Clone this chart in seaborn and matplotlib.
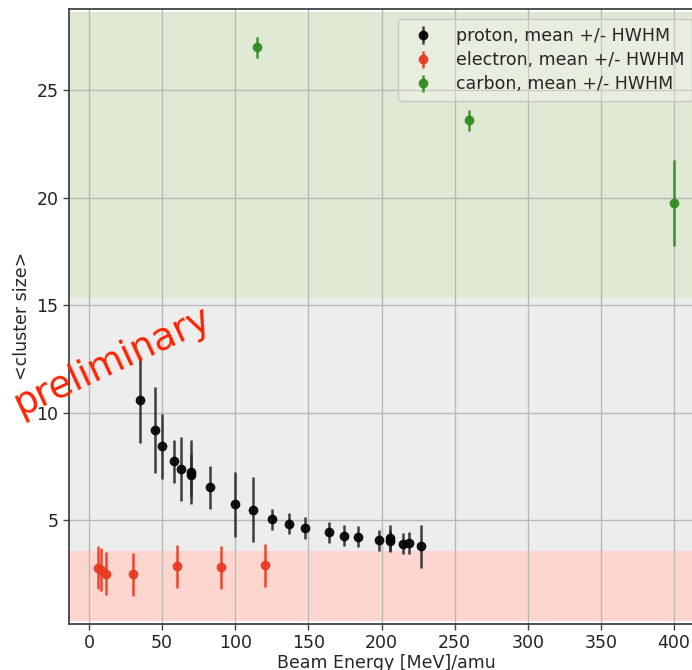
import numpy as np
import matplotlib
matplotlib.use("Agg")
import matplotlib.pyplot as plt
import seaborn as sns

# proton data (beam energy, mean cluster size, HWHM)
proton_energy = [35, 45, 50, 58, 63, 70, 70, 83, 100, 112, 125, 137, 148, 164, 174, 184, 198, 206, 206, 215, 219, 227]
proton_mean = [10.6, 9.2, 8.45, 7.75, 7.4, 7.25, 7.1, 6.55, 5.75, 5.5, 5.05, 4.85, 4.65, 4.45, 4.3, 4.25, 4.07, 4.18, 4.05, 3.92, 3.95, 3.8]
proton_hwhm = [2.0, 2.0, 1.5, 1.0, 1.5, 1.5, 1.0, 1.0, 1.5, 1.5, 0.5, 0.5, 0.5, 0.5, 0.5, 0.5, 0.5, 0.6, 0.5, 0.5, 0.5, 1.0]

# electron data
electron_energy = [6, 8, 11.5, 30, 60, 90, 120]
electron_mean = [2.8, 2.72, 2.52, 2.5, 2.87, 2.82, 2.92]
electron_hwhm = [1.0, 1.0, 1.0, 1.0, 1.0, 1.0, 1.0]

# carbon data
carbon_energy = [115, 260, 400]
carbon_mean = [27.0, 23.6, 19.75]
carbon_hwhm = [0.48, 0.48, 2.0]

# background bands (lower, upper)
band_limits = [(0.33, 3.58), (3.58, 15.35), (15.35, 28.66)]
band_colors = ['#fed6d0', '#ededed', '#dfe9d3']

sns.set_theme(style="whitegrid", rc={
    "axes.edgecolor": "#444444",
    "axes.linewidth": 1.3,
    "grid.color": "#b8b8b8",
    "grid.linewidth": 1.0,
    "xtick.bottom": True,
    "ytick.left": True,
    "xtick.major.size": 4,
    "ytick.major.size": 4,
    "xtick.major.width": 1.0,
    "ytick.major.width": 1.0,
    "xtick.major.pad": 3.5,
    "ytick.major.pad": 3.5,
    "xtick.color": "#444444",
    "ytick.color": "#444444",
    "xtick.labelcolor": "#222222",
    "ytick.labelcolor": "#222222",
    "font.size": 12.5,
    "axes.labelsize": 12.5,
    "axes.labelpad": 4,
    "xtick.labelsize": 12.5,
    "ytick.labelsize": 12.5,
    "legend.fontsize": 12.5,
})
plt.rcParams['font.family'] = ['DejaVu Sans']

fig = plt.figure(figsize=(6.92, 6.70), dpi=100)
ax = fig.add_axes([0.0997, 0.0694, 0.916, 0.9172])

for (lo, hi), c in zip(band_limits, band_colors):
    ax.axhspan(lo, hi, color=c, zorder=0, lw=0)

ax.errorbar(proton_energy, proton_mean, yerr=proton_hwhm, fmt='o', color='black',
            ecolor='#2a2a2a', ms=6, elinewidth=1.8, alpha=0.9,
            label='proton, mean +/- HWHM', zorder=3)
ax.errorbar(electron_energy, electron_mean, yerr=electron_hwhm, fmt='o', color='#e8381f',
            ms=6, elinewidth=1.8, alpha=0.9,
            label='electron, mean +/- HWHM', zorder=3)
ax.errorbar(carbon_energy, carbon_mean, yerr=carbon_hwhm, fmt='o', color='#2e8a1e',
            ms=6, elinewidth=1.8, alpha=0.9,
            label='carbon, mean +/- HWHM', zorder=3)

ax.set_xlim(-13.7, 419.7)
ax.set_ylim(0.21, 28.78)
ax.set_yticks([5, 10, 15, 20, 25])
ax.set_xlabel('Beam Energy [MeV]/amu', labelpad=1.5)
ax.set_ylabel('<cluster size>')

leg = ax.legend(loc='upper right', frameon=True, handletextpad=0.9, borderpad=0.45,
                labelspacing=0.35, fancybox=True, borderaxespad=0.6)
frame = leg.get_frame()
frame.set_alpha(None)
frame.set_facecolor((1, 1, 1, 0.25))
frame.set_edgecolor((0.78, 0.78, 0.78, 1))

ax.text(16.4, 12.4, 'preliminary', color='#ff2200', fontsize=27, rotation=25,
        rotation_mode='anchor', ha='center', va='center')

fig.savefig('out.png', dpi=100)
